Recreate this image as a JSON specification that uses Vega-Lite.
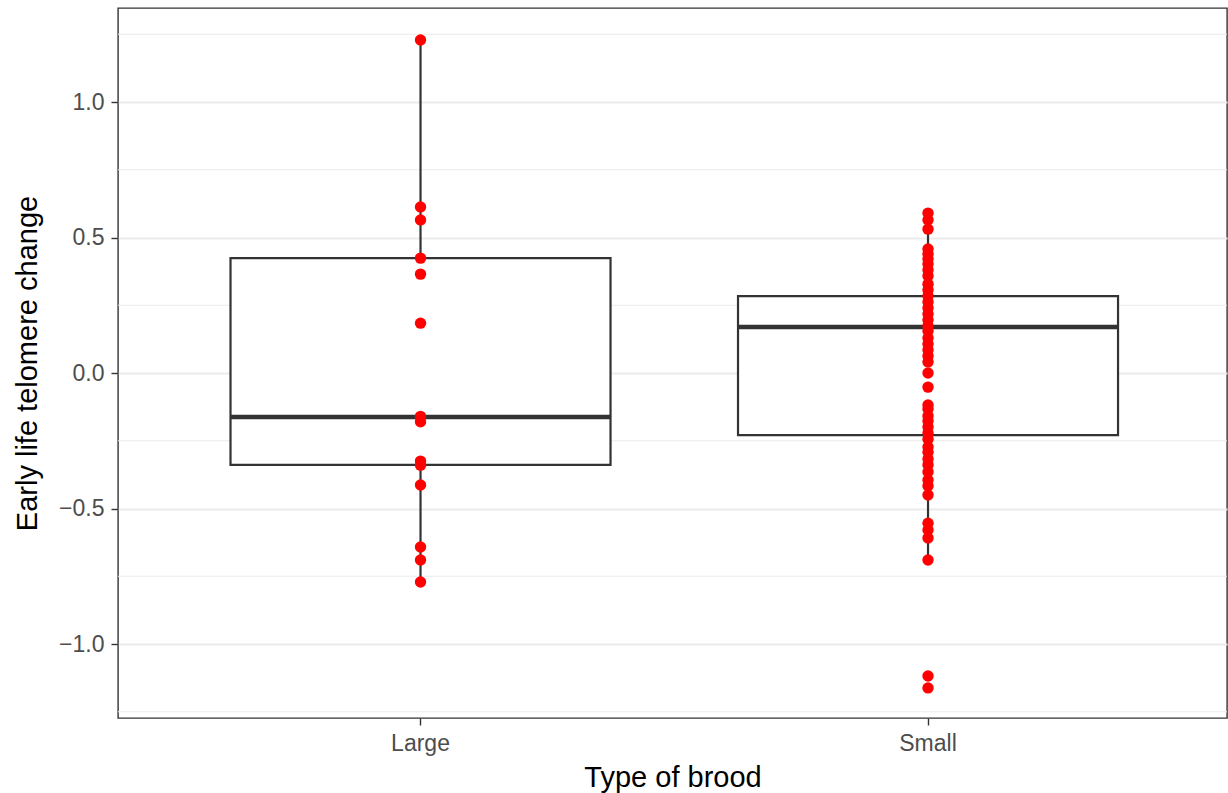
{
  "$schema": "https://vega.github.io/schema/vega-lite/v6.json",
  "width": 1109,
  "height": 710,
  "autosize": "none",
  "padding": {"left": 118, "top": 8, "right": 1, "bottom": 75},
  "background": "white",
  "config": {
    "font": "Liberation Sans",
    "view": {"stroke": "#333333", "strokeWidth": 1.4},
    "axis": {
      "labelFont": "Liberation Sans",
      "titleFont": "Liberation Sans",
      "labelFontSize": 23,
      "labelColor": "#4D4D4D",
      "titleFontSize": 29,
      "titleFontWeight": "normal",
      "titleColor": "#000000",
      "tickColor": "#333333",
      "tickSize": 7,
      "tickWidth": 1.4,
      "domain": false,
      "gridColor": "#EBEBEB",
      "gridWidth": 1.8
    }
  },
  "datasets": {
    "points": [
      {"brood": "Large", "change": 1.229},
      {"brood": "Large", "change": 0.613},
      {"brood": "Large", "change": 0.565},
      {"brood": "Large", "change": 0.424},
      {"brood": "Large", "change": 0.365},
      {"brood": "Large", "change": 0.184},
      {"brood": "Large", "change": -0.160},
      {"brood": "Large", "change": -0.180},
      {"brood": "Large", "change": -0.325},
      {"brood": "Large", "change": -0.340},
      {"brood": "Large", "change": -0.413},
      {"brood": "Large", "change": -0.642},
      {"brood": "Large", "change": -0.690},
      {"brood": "Large", "change": -0.771},
      {"brood": "Small", "change": 0.590},
      {"brood": "Small", "change": 0.565},
      {"brood": "Small", "change": 0.531},
      {"brood": "Small", "change": 0.458},
      {"brood": "Small", "change": 0.439},
      {"brood": "Small", "change": 0.421},
      {"brood": "Small", "change": 0.402},
      {"brood": "Small", "change": 0.380},
      {"brood": "Small", "change": 0.358},
      {"brood": "Small", "change": 0.328},
      {"brood": "Small", "change": 0.306},
      {"brood": "Small", "change": 0.284},
      {"brood": "Small", "change": 0.262},
      {"brood": "Small", "change": 0.240},
      {"brood": "Small", "change": 0.218},
      {"brood": "Small", "change": 0.196},
      {"brood": "Small", "change": 0.173},
      {"brood": "Small", "change": 0.155},
      {"brood": "Small", "change": 0.129},
      {"brood": "Small", "change": 0.107},
      {"brood": "Small", "change": 0.085},
      {"brood": "Small", "change": 0.063},
      {"brood": "Small", "change": 0.041},
      {"brood": "Small", "change": 0.000},
      {"brood": "Small", "change": -0.052},
      {"brood": "Small", "change": -0.118},
      {"brood": "Small", "change": -0.133},
      {"brood": "Small", "change": -0.159},
      {"brood": "Small", "change": -0.177},
      {"brood": "Small", "change": -0.199},
      {"brood": "Small", "change": -0.221},
      {"brood": "Small", "change": -0.244},
      {"brood": "Small", "change": -0.273},
      {"brood": "Small", "change": -0.292},
      {"brood": "Small", "change": -0.317},
      {"brood": "Small", "change": -0.339},
      {"brood": "Small", "change": -0.365},
      {"brood": "Small", "change": -0.395},
      {"brood": "Small", "change": -0.417},
      {"brood": "Small", "change": -0.450},
      {"brood": "Small", "change": -0.554},
      {"brood": "Small", "change": -0.579},
      {"brood": "Small", "change": -0.609},
      {"brood": "Small", "change": -0.690},
      {"brood": "Small", "change": -1.118},
      {"brood": "Small", "change": -1.162}
    ],
    "summary": [
      {"brood": "Large", "lower": -0.771, "q1": -0.339, "median": -0.162, "q3": 0.424, "upper": 1.229},
      {"brood": "Small", "lower": -0.690, "q1": -0.229, "median": 0.170, "q3": 0.284, "upper": 0.590}
    ],
    "minorGrid": [
      {"v": -1.25}, {"v": -0.75}, {"v": -0.25}, {"v": 0.25}, {"v": 0.75}, {"v": 1.25}
    ]
  },
  "encoding": {
    "x": {
      "field": "brood",
      "type": "nominal",
      "scale": {"domain": ["Large", "Small"], "paddingInner": 0.2512, "paddingOuter": 0.2182, "align": 0.508},
      "axis": {
        "title": "Type of brood",
        "labelAngle": 0,
        "bandPosition": 0.5,
        "labelPadding": 7,
        "titlePadding": 8
      }
    }
  },
  "layer": [
    {
      "data": {"name": "minorGrid"},
      "mark": {"type": "rule", "color": "#EBEBEB", "strokeWidth": 1.1},
      "encoding": {
        "x": null,
        "y": {"field": "v", "type": "quantitative"}
      }
    },
    {
      "data": {"name": "summary"},
      "mark": {"type": "rule", "color": "#333333", "strokeWidth": 2.2},
      "encoding": {
        "y": {
          "field": "lower",
          "type": "quantitative",
          "scale": {"domain": [-1.273, 1.347], "nice": false, "zero": false},
          "axis": {
            "title": "Early life telomere change",
            "values": [-1, -0.5, 0, 0.5, 1],
            "format": ".1f",
            "labelPadding": 7,
            "titlePadding": 16
          }
        },
        "y2": {"field": "upper"}
      }
    },
    {
      "data": {"name": "summary"},
      "mark": {"type": "bar", "fill": "white", "stroke": "#333333", "strokeWidth": 2.2},
      "encoding": {
        "y": {"field": "q1", "type": "quantitative"},
        "y2": {"field": "q3"}
      }
    },
    {
      "data": {"name": "summary"},
      "mark": {"type": "tick", "color": "#333333", "thickness": 4.5, "size": 381, "opacity": 1},
      "encoding": {
        "y": {"field": "median", "type": "quantitative"}
      }
    },
    {
      "data": {"name": "points"},
      "mark": {"type": "circle", "color": "#FF0000", "size": 130, "opacity": 1},
      "encoding": {
        "y": {"field": "change", "type": "quantitative"}
      }
    }
  ]
}
